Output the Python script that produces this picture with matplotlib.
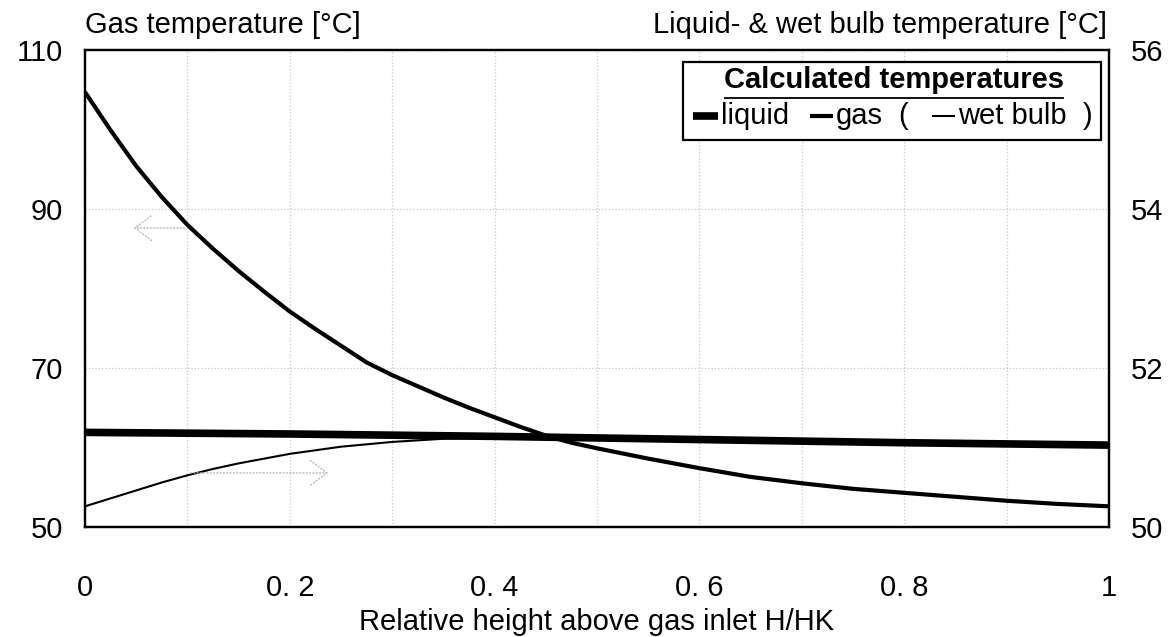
import numpy as np
import matplotlib.pyplot as plt
from matplotlib.patches import Rectangle
from matplotlib.lines import Line2D

plt.rcParams['font.family'] = ['Liberation Sans', 'DejaVu Sans']

# relative height above gas inlet
x_gas = [0, 0.025, 0.05, 0.075, 0.1, 0.125, 0.15, 0.175, 0.2, 0.225, 0.25,
         0.275, 0.3, 0.325, 0.35, 0.375, 0.4, 0.425, 0.45, 0.475, 0.5,
         0.55, 0.6, 0.65, 0.7, 0.75, 0.8, 0.85, 0.9, 0.95, 1.0]
t_gas = [104.7, 99.9, 95.4, 91.5, 88.0, 85.0, 82.2, 79.6, 77.1, 74.9, 72.8,
         70.7, 69.1, 67.7, 66.3, 65.0, 63.8, 62.6, 61.5, 60.6, 59.9,
         58.6, 57.4, 56.3, 55.5, 54.8, 54.3, 53.8, 53.3, 52.9, 52.6]

x_liq = [0, 0.2, 0.4, 0.6, 0.8, 1.0]
t_liq = [51.19, 51.17, 51.14, 51.10, 51.06, 51.03]

x_wb = [0, 0.025, 0.05, 0.075, 0.1, 0.125, 0.15, 0.175, 0.2, 0.25, 0.3,
        0.35, 0.4, 0.5, 0.6, 0.8, 1.0]
t_wb = [50.26, 50.36, 50.46, 50.56, 50.65, 50.73, 50.80, 50.86, 50.92,
        51.01, 51.07, 51.11, 51.12, 51.10, 51.08, 51.04, 51.01]

xticks = [0, 0.2, 0.4, 0.6, 0.8, 1.0]
xticklabels = ['0', '0. 2', '0. 4', '0. 6', '0. 8', '1']
yticks_left = [50, 70, 90, 110]
yticks_right = [50, 52, 54, 56]

fs = 21
fig = plt.figure(figsize=(11.76, 6.37), dpi=100)
ax = fig.add_axes([0.0723, 0.1727, 0.8707, 0.7488])
ax2 = ax.twinx()

ax.set_xlim(0, 1)
ax.set_ylim(50, 110)
ax2.set_ylim(50, 56)

ax.set_xticks(np.arange(0, 1.01, 0.1), minor=True)
ax.set_xticks(xticks)
ax.set_xticklabels(xticklabels)
ax.set_yticks(yticks_left)
ax2.set_yticks(yticks_right)
ax.grid(True, which='both', axis='x', color='#c8c8c8', linestyle=':', linewidth=0.9)
ax.grid(True, axis='y', color='#c8c8c8', linestyle=':', linewidth=0.9)
ax.tick_params(which='both', length=0, labelsize=fs)
ax.tick_params(axis='x', pad=34)
ax.tick_params(axis='y', pad=16)
ax2.tick_params(length=0, labelsize=fs, pad=16)
for a in (ax, ax2):
    for s in a.spines.values():
        s.set_linewidth(1.6)

# curves
ax.plot(x_gas, t_gas, color='black', lw=3.0, solid_capstyle='butt',
        solid_joinstyle='round')
ax2.plot(x_wb, t_wb, color='black', lw=1.5, solid_joinstyle='round')
ax2.plot(x_liq, t_liq, color='black', lw=5.5, solid_capstyle='butt')

# axis pointer arrows
arr = dict(arrowstyle='->,head_length=0.6,head_width=0.45', color='#b4b4b4',
           lw=0.9, linestyle=':', mutation_scale=20)
ax.annotate('', xy=(0.045, 87.6), xytext=(0.1, 87.6), arrowprops=arr)
ax2.annotate('', xy=(0.24, 50.68), xytext=(0.1, 50.68), arrowprops=arr)

fig.text(0.5077, 0.0235, 'Relative height above gas inlet H/HK', fontsize=fs,
         ha='center', va='center')
fig.text(0.0723, 0.961, 'Gas temperature [°C]', fontsize=fs, ha='left', va='center')
fig.text(0.941, 0.961, 'Liquid- & wet bulb temperature [°C]', fontsize=fs,
         ha='right', va='center')

# legend box
ax2.add_patch(Rectangle((0.584, 0.811), 0.408, 0.164, transform=ax2.transAxes,
                        facecolor='white', edgecolor='black', lw=1.6, zorder=5))
ax2.text(0.79, 0.937, 'Calculated temperatures', transform=ax2.transAxes,
         fontsize=fs, fontweight='bold', ha='center', va='center', zorder=6)
ax2.add_line(Line2D([0.625, 0.955], [0.899, 0.899], transform=ax2.transAxes,
                    color='black', lw=1.3, zorder=6))
ey = 0.862
for (x0, x1), w, lab in [((0.594, 0.618), 5.5, 'liquid'),
                         ((0.708, 0.730), 3.0, 'gas'),
                         ((0.827, 0.850), 1.5, 'wet bulb  )')]:
    ax2.add_line(Line2D([x0, x1], [ey, ey], transform=ax2.transAxes,
                        color='black', lw=w, zorder=6, solid_capstyle='butt'))
    ax2.text(x1 + 0.003, ey, lab, transform=ax2.transAxes, fontsize=fs,
             ha='left', va='center', zorder=6)
ax2.text(0.794, ey, '(', transform=ax2.transAxes, fontsize=fs,
         ha='left', va='center', zorder=6)

fig.savefig('out.png', dpi=100)
